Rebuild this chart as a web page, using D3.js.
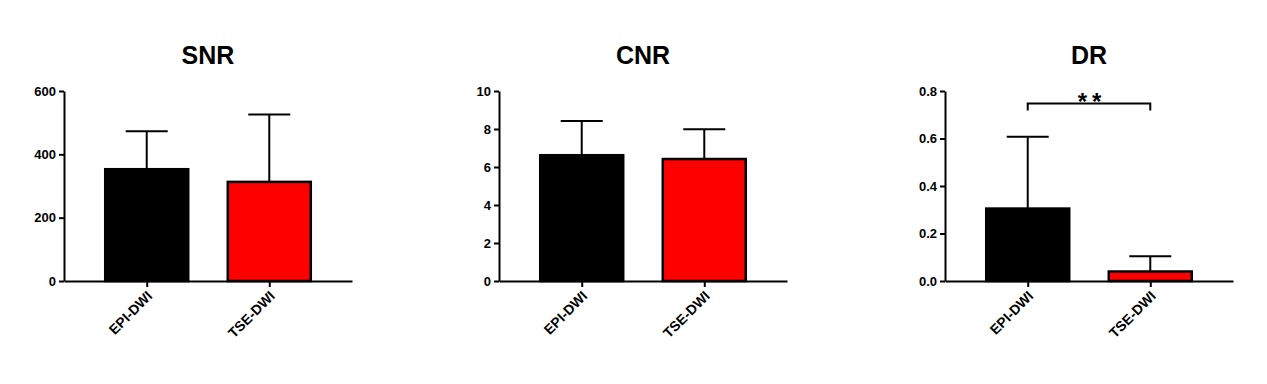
<!DOCTYPE html>
<html>
<head>
<meta charset="utf-8">
<script src="https://cdn.jsdelivr.net/npm/d3@7"></script>
<style>
  body { margin: 0; background: #fff; }
  text { font-family: Arial, "Liberation Sans", sans-serif; font-weight: bold; }
</style>
</head>
<body>
<script>
const groups = ["EPI-DWI", "TSE-DWI"];
const colors = ["#000000", "#ff0000"];

const snrMean = [353, 313];
const snrSD = [120, 213];
const cnrMean = [6.62, 6.42];
const cnrSD = [1.8, 1.57];
const drMean = [0.305, 0.04];
const drSD = [0.302, 0.064];

const snrTicks = [0, 200, 400, 600];
const cnrTicks = [0, 2, 4, 6, 8, 10];
const drTicks = [0, 0.2, 0.4, 0.6, 0.8];

const w = 1267;
const h = 384;

const svg = d3.select("body")
	.append("svg")
	.attr("width", w)
	.attr("height", h);

const plotTop = 91, plotBottom = 281, axisW = 288;

function panel(x0, title, mean, sd, ticks, fmt, sig) {
	const g = svg.append("g").attr("transform", "translate(" + x0 + ",0)");

	const x = d3.scalePoint().domain(groups).range([0, axisW]).padding(0.675);
	const y = d3.scaleLinear().domain([0, ticks[ticks.length - 1]]).range([plotBottom, plotTop]);
	const bw = 83;

	g.append("text")
		.attr("x", axisW / 2)
		.attr("y", 64)
		.attr("text-anchor", "middle")
		.attr("font-size", 25)
		.text(title);

	// bars
	g.selectAll("rect.bar")
		.data(groups)
		.enter()
		.append("rect")
		.attr("class", "bar")
		.attr("x", d => x(d) - bw / 2)
		.attr("width", bw)
		.attr("y", (d, i) => y(mean[i]))
		.attr("height", (d, i) => y(0) - y(mean[i]))
		.attr("fill", (d, i) => colors[i])
		.attr("stroke", "#000")
		.attr("stroke-width", 2.5);

	// error bars
	g.selectAll("line.err")
		.data(groups)
		.enter()
		.append("line")
		.attr("class", "err")
		.attr("x1", d => x(d))
		.attr("x2", d => x(d))
		.attr("y1", (d, i) => y(mean[i]))
		.attr("y2", (d, i) => y(mean[i] + sd[i]))
		.attr("stroke", "#000")
		.attr("stroke-width", 2);
	g.selectAll("line.cap")
		.data(groups)
		.enter()
		.append("line")
		.attr("class", "cap")
		.attr("x1", d => x(d) - 21)
		.attr("x2", d => x(d) + 21)
		.attr("y1", (d, i) => y(mean[i] + sd[i]))
		.attr("y2", (d, i) => y(mean[i] + sd[i]))
		.attr("stroke", "#000")
		.attr("stroke-width", 2);

	// y axis
	const yAxis = g.append("g")
		.call(d3.axisLeft(y).tickValues(ticks).tickFormat(fmt).tickSize(5).tickSizeOuter(0))
		.attr("font-size", 13)
		.attr("font-weight", "bold")
		.attr("font-family", "Arial, 'Liberation Sans', sans-serif");
	yAxis.select(".domain").attr("stroke-width", 2);
	yAxis.selectAll(".tick line").attr("stroke-width", 2);
	yAxis.selectAll(".tick text").attr("x", -8);

	// x axis
	const xAxis = g.append("g")
		.attr("transform", "translate(0," + plotBottom + ")")
		.call(d3.axisBottom(x).tickSize(6).tickSizeOuter(0))
		.attr("font-size", 14)
		.attr("font-weight", "bold")
		.attr("font-family", "Arial, 'Liberation Sans', sans-serif");
	xAxis.select(".domain").attr("stroke-width", 2);
	xAxis.selectAll(".tick line").attr("stroke-width", 2);
	xAxis.selectAll(".tick text")
		.attr("text-anchor", "end")
		.attr("x", 0)
		.attr("y", 0)
		.attr("dy", 0)
		.attr("transform", "translate(6,16) rotate(-45)");

	if (sig) {
		const by = 103.5;
		g.append("path")
			.attr("d", "M" + x(groups[0]) + "," + (by + 7) + "V" + by + "H" + x(groups[1]) + "V" + (by + 7))
			.attr("fill", "none")
			.attr("stroke", "#000")
			.attr("stroke-width", 2);
		g.append("text")
			.attr("x", (x(groups[0]) + x(groups[1])) / 2 + 3)
			.attr("y", 110)
			.attr("text-anchor", "middle")
			.attr("font-size", 24)
			.attr("letter-spacing", 5)
			.text(sig);
	}
}

panel(64, "SNR", snrMean, snrSD, snrTicks, d3.format("d"));
panel(499, "CNR", cnrMean, cnrSD, cnrTicks, d3.format("d"));
panel(945, "DR", drMean, drSD, drTicks, d3.format(".1f"), "**");
</script>
</body>
</html>
